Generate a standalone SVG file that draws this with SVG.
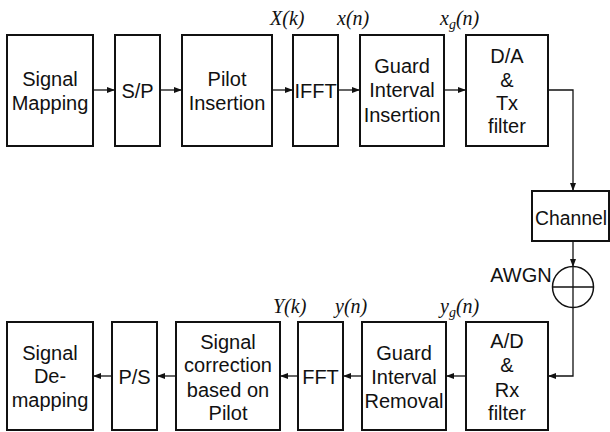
<svg xmlns="http://www.w3.org/2000/svg" width="610" height="432" viewBox="0 0 610 432">
<defs>
<style>
.box{fill:#fff;stroke:#111;stroke-width:2}
.t{font-family:"Liberation Sans",Arial,sans-serif;font-size:20px;fill:#111;text-anchor:middle}
.m{font-family:"Liberation Serif","Times New Roman",serif;font-style:italic;font-size:20px;fill:#111}
.c{fill:none;stroke:#111;stroke-width:1.3}
</style>
<marker id="ah" markerWidth="8" markerHeight="6" refX="7" refY="3" orient="auto" markerUnits="userSpaceOnUse">
<path d="M0,0 L8,3 L0,6 Z" fill="#111"/>
</marker>
</defs>
<rect width="610" height="432" fill="#fff"/>
<g id="connectors">
<line class="c" x1="93" y1="90" x2="114" y2="90" marker-end="url(#ah)"/>
<line class="c" x1="160" y1="90" x2="181" y2="90" marker-end="url(#ah)"/>
<line class="c" x1="272" y1="90" x2="292" y2="90" marker-end="url(#ah)"/>
<line class="c" x1="338" y1="90" x2="359" y2="90" marker-end="url(#ah)"/>
<line class="c" x1="444" y1="90" x2="465" y2="90" marker-end="url(#ah)"/>
<polyline class="c" points="548,90 573,90 573,190" marker-end="url(#ah)"/>
<line class="c" x1="573" y1="241" x2="573" y2="266" marker-end="url(#ah)"/>
<polyline class="c" points="573,308 573,376 549,376" marker-end="url(#ah)"/>
<line class="c" x1="466" y1="376" x2="447" y2="376" marker-end="url(#ah)"/>
<line class="c" x1="362" y1="376" x2="344" y2="376" marker-end="url(#ah)"/>
<line class="c" x1="298" y1="376" x2="281" y2="376" marker-end="url(#ah)"/>
<line class="c" x1="176" y1="376" x2="158" y2="376" marker-end="url(#ah)"/>
<line class="c" x1="112" y1="376" x2="94" y2="376" marker-end="url(#ah)"/>
</g>
<g id="signal-mapping"><rect class="box" x="7" y="35" width="86" height="111"/><text class="t" x="50" y="86">Signal</text><text class="t" x="50" y="110">Mapping</text></g>
<g id="sp"><rect class="box" x="115" y="35" width="45" height="111"/><text class="t" x="137.5" y="98">S/P</text></g>
<g id="pilot-insertion"><rect class="box" x="182" y="35" width="90" height="111"/><text class="t" x="227" y="86">Pilot</text><text class="t" x="227" y="110">Insertion</text></g>
<g id="ifft"><rect class="box" x="293" y="35" width="45" height="111"/><text class="t" x="315.5" y="98">IFFT</text></g>
<g id="gi-insertion"><rect class="box" x="360" y="35" width="84" height="111"/><text class="t" x="402" y="73">Guard</text><text class="t" x="402" y="97">Interval</text><text class="t" x="402" y="122">Insertion</text></g>
<g id="da"><rect class="box" x="466" y="35" width="82" height="111"/><text class="t" x="507" y="63">D/A</text><text class="t" x="507" y="87">&amp;</text><text class="t" x="507" y="110">Tx</text><text class="t" x="507" y="133">filter</text></g>
<g id="channel"><rect class="box" x="532" y="191" width="77" height="50"/><text class="t" x="571" y="225" textLength="72" lengthAdjust="spacingAndGlyphs">Channel</text></g>
<g id="awgn"><circle cx="573" cy="287" r="20.5" fill="#fff" stroke="#111" stroke-width="1.5"/><line x1="552.5" y1="287" x2="593.5" y2="287" stroke="#111" stroke-width="1.3"/><line x1="573" y1="266.5" x2="573" y2="307.5" stroke="#111" stroke-width="1.3"/><text class="t" x="521" y="282">AWGN</text></g>
<g id="ad"><rect class="box" x="466" y="322" width="82" height="108"/><text class="t" x="507" y="348">A/D</text><text class="t" x="507" y="372">&amp;</text><text class="t" x="507" y="397">Rx</text><text class="t" x="507" y="420">filter</text></g>
<g id="gi-removal"><rect class="box" x="362" y="322" width="84" height="108"/><text class="t" x="404" y="360">Guard</text><text class="t" x="404" y="384">Interval</text><text class="t" x="404" y="408">Removal</text></g>
<g id="fft"><rect class="box" x="298" y="322" width="45" height="108"/><text class="t" x="320.5" y="384">FFT</text></g>
<g id="signal-correction"><rect class="box" x="176" y="322" width="104" height="108"/><text class="t" x="228" y="349">Signal</text><text class="t" x="228" y="372">correction</text><text class="t" x="228" y="397">based on</text><text class="t" x="228" y="420">Pilot</text></g>
<g id="ps"><rect class="box" x="112" y="322" width="45" height="108"/><text class="t" x="134.5" y="384">P/S</text></g>
<g id="signal-demapping"><rect class="box" x="7" y="322" width="86" height="108"/><text class="t" x="50" y="360">Signal</text><text class="t" x="50" y="383">De-</text><text class="t" x="50" y="407">mapping</text></g>
<g id="labels">
<text class="m" x="270" y="25">X(k)</text>
<text class="m" x="337" y="25">x(n)</text>
<text class="m" x="440" y="25">x<tspan font-size="14" dy="4">g</tspan><tspan dy="-4">(n)</tspan></text>
<text class="m" x="273" y="313">Y(k)</text>
<text class="m" x="335" y="313">y(n)</text>
<text class="m" x="440" y="313">y<tspan font-size="14" dy="4">g</tspan><tspan dy="-4">(n)</tspan></text>
</g>
</svg>
